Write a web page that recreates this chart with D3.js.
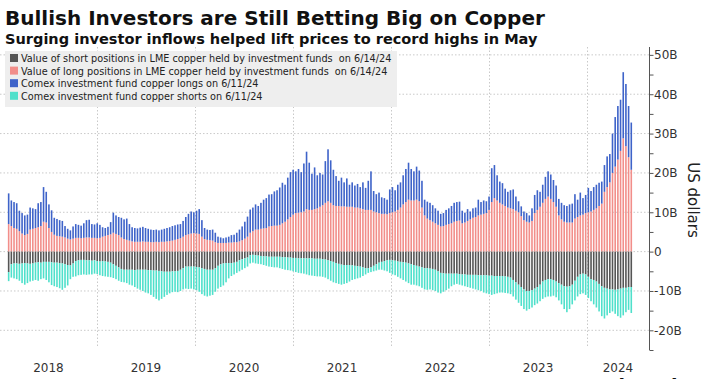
<!DOCTYPE html>
<html><head><meta charset="utf-8">
<script src="https://cdn.jsdelivr.net/npm/d3@7"></script>
<style>
html,body{margin:0;padding:0;background:#fff;}
svg{display:block;font-family:"DejaVu Sans",Verdana,sans-serif;}
</style></head><body>
<svg id="chart" width="708" height="379"></svg>
<script>
// LME long positions held by investment funds (US$ bn)
const lmeLong = [
7.0,6.5,6.0,5.8,5.2,4.6,4.2,4.5,5.6,5.8,
6.0,6.2,6.5,7.6,7.4,6.0,5.0,4.3,4.0,3.9,
3.8,3.6,3.3,3.1,3.3,3.5,3.5,3.4,3.5,3.6,
3.6,3.5,3.5,3.4,3.5,3.8,4.0,4.2,4.4,4.8,
4.5,4.2,3.6,3.2,3.0,2.8,2.6,2.5,2.5,2.5,
2.6,2.5,2.5,2.4,2.4,2.5,2.4,2.5,2.5,2.6,
2.7,2.8,3.0,3.2,3.4,3.8,4.2,4.4,4.6,4.7,
4.6,4.5,3.8,3.2,3.0,2.9,2.8,2.4,2.2,2.2,
2.2,2.2,2.3,2.3,2.4,2.4,2.6,2.9,3.3,3.8,
4.8,5.2,5.6,5.6,5.8,5.9,6.0,6.4,6.5,6.6,
6.6,6.8,7.2,7.6,8.2,8.8,9.4,9.8,9.9,10.0,
10.2,10.8,10.6,10.6,10.8,11.0,11.4,11.8,12.4,12.8,
12.4,11.8,11.6,11.6,11.5,11.5,11.4,11.4,11.4,11.2,
11.2,11.0,10.8,10.6,10.6,10.6,10.2,10.0,9.8,9.6,
9.6,9.5,9.8,10.0,10.2,10.6,11.2,12.0,12.6,13.2,
13.0,13.0,13.2,12.8,11.2,9.2,8.4,8.0,7.6,7.2,
6.8,6.4,6.5,6.8,7.0,7.2,7.6,7.8,7.9,7.2,
7.4,7.8,8.2,8.6,8.8,9.2,9.4,9.6,9.8,10.6,
12.6,13.6,13.0,12.4,12.0,11.6,11.2,11.0,10.8,10.4,
10.0,9.0,8.0,7.6,7.4,7.8,9.8,10.6,11.4,12.4,
13.4,14.0,13.4,12.6,11.4,9.2,8.2,7.6,7.4,7.4,
7.4,8.4,8.8,9.2,9.4,9.8,10.0,10.2,10.6,11.0,
11.6,12.2,15.2,16.4,17.6,20.0,21.6,23.4,25.6,28.8,
26.8,24.0,20.8];
// Comex investment fund longs (US$ bn)
const comexLong = [
7.8,6.5,6.6,6.5,5.2,5.2,5.0,4.9,5.6,5.2,
4.8,6.1,6.1,8.8,7.8,6.0,5.5,4.3,4.3,4.1,
4.0,2.9,2.5,2.3,3.1,3.5,3.3,3.2,3.7,4.4,
4.5,3.5,3.4,3.8,3.3,2.4,2.0,2.1,3.1,5.1,
4.7,4.6,5.0,5.0,5.4,4.2,3.6,3.5,3.4,3.6,
3.7,3.5,3.3,3.2,3.1,3.1,3.0,3.1,3.3,3.4,
3.5,3.7,3.7,3.7,3.6,4.0,4.6,5.2,5.6,5.3,
5.8,6.3,4.2,2.8,2.6,2.6,2.8,2.4,1.6,1.4,
1.2,1.4,1.5,1.9,1.9,2.4,3.0,3.5,4.3,5.1,
5.9,6.0,6.4,6.0,6.6,7.3,7.6,8.1,8.1,8.7,
9.0,9.5,10.3,9.4,10.6,11.4,11.4,10.6,11.1,10.2,
12.2,14.6,12.0,9.2,10.6,8.4,8.6,7.8,10.6,13.2,
10.8,9.0,7.6,6.4,7.3,6.1,7.2,5.6,6.2,5.6,
6.0,5.4,6.8,5.6,7.4,9.8,5.2,4.6,5.2,4.2,
4.0,3.7,6.0,6.4,5.4,6.4,6.4,7.4,8.4,9.4,
8.0,7.4,8.4,7.8,6.8,4.0,4.3,4.4,4.2,3.8,
3.6,3.2,3.3,3.8,4.0,4.4,4.8,4.8,4.8,3.2,
2.5,3.0,2.0,2.4,2.4,4.0,3.2,3.4,3.0,3.4,
8.6,8.4,6.4,5.4,5.4,4.4,4.0,4.6,5.0,3.6,
2.8,2.5,2.2,2.2,1.8,3.2,4.6,5.0,3.8,4.6,
5.6,6.4,6.2,5.6,5.4,4.2,4.2,4.2,4.2,4.6,
4.8,6.2,4.4,5.8,4.2,4.6,6.2,5.2,5.8,6.0,
5.9,5.6,6.8,7.8,7.2,10.0,12.6,13.6,13.0,16.8,
15.8,13.0,12.0];
// LME short positions held by investment funds (US$ bn, shown below zero)
const lmeShort = [
5.2,3.2,3.0,3.0,3.1,3.0,2.9,3.0,3.1,3.0,
2.8,2.7,2.8,2.6,2.6,2.6,2.7,2.8,2.8,2.9,
3.0,3.2,3.4,3.5,3.0,2.4,2.2,2.1,2.1,2.2,
2.2,2.3,2.2,2.4,2.5,2.4,2.5,2.6,2.8,3.2,
3.6,4.0,4.4,4.6,4.6,4.6,4.6,4.7,4.6,4.6,
4.6,4.6,4.7,4.7,4.8,4.8,4.9,5.0,5.1,5.1,
5.1,5.0,5.0,4.9,4.6,4.2,3.8,3.8,3.8,3.8,
3.9,4.0,4.2,4.4,4.6,4.6,4.6,4.2,3.6,3.2,
3.0,2.9,2.9,2.9,2.8,2.6,2.2,1.9,1.7,1.5,
0.9,0.8,0.9,1.0,1.1,1.2,1.2,1.3,1.3,1.3,
1.3,1.3,1.4,1.4,1.5,1.5,1.6,1.6,1.7,1.7,
1.7,1.7,1.7,1.7,1.8,1.8,1.8,1.9,2.0,2.2,
2.4,2.6,2.9,3.1,3.3,3.4,3.4,3.4,3.5,3.6,
3.7,3.8,4.0,4.2,4.2,4.0,3.6,3.2,2.8,2.6,
2.4,2.2,2.1,2.2,2.3,2.5,2.6,2.7,2.8,3.0,
3.2,3.4,3.6,3.8,4.0,4.2,4.2,4.3,4.4,4.6,
5.0,5.4,5.5,5.6,5.6,5.6,5.6,5.6,5.7,5.8,
5.8,5.9,5.9,5.9,5.9,6.0,6.0,6.0,6.0,6.1,
6.1,6.2,6.2,6.2,6.2,6.3,6.4,6.6,7.2,7.8,
8.4,9.0,9.6,10.0,10.0,9.8,9.4,9.0,8.4,7.6,
7.2,7.0,7.0,7.2,7.6,8.0,8.4,8.8,8.9,8.8,
8.4,7.4,6.4,5.8,5.6,5.8,6.4,7.0,7.2,7.6,
8.2,8.8,9.2,9.4,9.6,9.6,9.7,9.6,9.4,9.2,
9.2,9.0,9.0];
// Comex investment fund shorts (US$ bn, shown below zero)
const comexShort = [
2.3,3.4,3.8,4.0,4.3,5.0,5.5,5.0,4.5,4.4,
4.4,4.7,4.2,4.2,4.6,5.2,5.8,6.0,6.2,6.4,
6.7,6.0,5.2,3.5,3.4,3.9,3.8,3.8,3.7,3.7,
3.6,3.5,3.4,3.3,3.5,3.8,3.8,3.8,3.7,3.5,
3.4,3.4,3.3,3.2,3.4,3.8,4.0,4.3,4.8,5.1,
5.4,5.8,5.9,6.3,6.7,7.2,7.5,7.0,6.4,5.9,
5.5,5.3,5.2,5.4,5.4,5.4,5.6,5.7,5.6,5.8,
5.9,6.2,6.6,6.8,6.8,6.6,6.4,6.0,5.8,5.8,
5.6,4.9,3.9,3.3,3.0,2.8,2.8,2.7,2.5,2.3,
2.1,2.0,2.1,2.1,2.1,2.2,2.4,2.5,2.6,2.7,
2.7,2.9,3.0,3.2,3.2,3.3,3.4,3.6,3.7,3.8,
3.9,4.1,4.3,4.4,4.4,4.5,4.5,4.5,4.6,4.8,
5.0,5.2,5.1,5.1,5.1,4.8,4.6,4.2,3.7,3.4,
3.1,2.8,2.2,1.6,1.2,1.2,1.4,1.6,1.8,2.0,
2.4,2.8,3.3,3.6,3.7,3.9,4.2,4.5,4.8,5.0,
5.2,5.0,5.0,5.0,5.2,5.4,5.5,5.3,5.4,5.4,
5.4,5.2,4.7,4.2,3.8,3.2,2.8,2.6,2.7,2.8,
3.0,3.1,3.3,3.5,3.7,3.8,4.0,4.4,4.6,4.7,
4.9,4.6,4.4,4.2,4.2,4.2,4.2,4.2,4.2,4.4,
4.6,4.8,5.0,5.0,4.6,4.4,4.2,4.2,4.2,4.4,
4.4,4.4,4.4,4.0,4.0,4.4,5.0,5.8,6.5,5.8,
5.0,5.0,5.0,5.0,5.0,5.2,5.4,5.6,6.2,6.6,
7.0,7.6,7.8,6.8,6.0,5.6,6.1,6.8,7.4,7.0,
6.2,5.8,6.6];

const yearLabels = ["2018","2019","2020","2021","2022","2023","2024"];
const yTickValues = [-20,-10,0,10,20,30,40,50];
const yMinorTicks = [-25,-20,-15,-10,-5,0,5,10,15,20,25,30,35,40,45,50];
const yTickLabels = ["-20B","-10B","0","10B","20B","30B","40B","50B"];
const legendLabels = [
  "Value of short positions in LME copper held by investment funds  on 6/14/24",
  "Value of long positions in LME copper held by investment funds  on 6/14/24",
  "Comex investment fund copper longs on 6/11/24",
  "Comex investment fund copper shorts on 6/11/24"
];
const titleText = "Bullish Investors are Still Betting Big on Copper";
const subtitleText = "Surging investor inflows helped lift prices to record highs in May";
const lastDate = new Date(2024, 5, 14);
const stepDays = 10;

const colors = {lmeShort:"#555555", lmeLong:"#f28e8a", comexLong:"#3e63c9", comexShort:"#4fe0cb"};

const n = lmeLong.length;
const rows = lmeLong.map((v, i) => ({
  date: d3.timeDay.offset(lastDate, -(n - 1 - i) * stepDays),
  lmeLong: v, comexLong: comexLong[i], lmeShort: -lmeShort[i], comexShort: -comexShort[i]
}));

const svg = d3.select("#chart");
const axisX = 649;
const x = d3.scaleTime().domain([new Date(2018,0,1), new Date(2024,7,19)]).range([-1, axisX]);
const y = d3.scaleLinear().domain([-25, 52]).range([350, 47]);

// gridlines
const grid = svg.append("g");
grid.selectAll("line.h").data(yTickValues).join("line")
  .attr("x1", 0).attr("x2", axisX).attr("y1", d => y(d)).attr("y2", d => y(d))
  .attr("stroke", "#c9c9c9").attr("stroke-width", 1).attr("stroke-dasharray", "1.5,2");
const yearStarts = d3.range(2019, 2025).map(yy => new Date(yy, 0, 1));
grid.selectAll("line.v").data(yearStarts).join("line")
  .attr("x1", d => Math.round(x(d)) + 0.5).attr("x2", d => Math.round(x(d)) + 0.5)
  .attr("y1", 47).attr("y2", 348)
  .attr("stroke", "#c9c9c9").attr("stroke-width", 1).attr("stroke-dasharray", "1.5,2");

// legend background
const lg = svg.append("g");
lg.append("rect").attr("x", 5).attr("y", 51).attr("width", 392).attr("height", 56).attr("fill", "#eeeeee");
const legendKeys = ["lmeShort","lmeLong","comexLong","comexShort"];
legendLabels.forEach((t, i) => {
  const cy = 58 + i * 12.6;
  lg.append("rect").attr("x", 10).attr("y", cy - 4).attr("width", 8).attr("height", 8).attr("fill", colors[legendKeys[i]]);
  lg.append("text").attr("x", 21).attr("y", cy + 4).attr("font-size", 11).attr("fill", "#222").text(t)
    .attr("xml:space", "preserve").style("white-space", "pre");
});
// fit first legend line to ~371px
{
  const tx = lg.selectAll("text").nodes();
  const w = tx[0].getComputedTextLength();
  const fs = 11 * 371 / w;
  tx.forEach(t => t.setAttribute("font-size", fs));
}

// bars
const stack = d3.stack().keys(["lmeLong","comexLong","lmeShort","comexShort"]).offset(d3.stackOffsetDiverging);
const series = stack(rows);
const bw = 1.6;
svg.append("g").selectAll("g").data(series).join("g")
  .attr("fill", s => colors[s.key])
  .selectAll("rect").data(s => s).join("rect")
  .attr("x", d => x(d.data.date) - bw / 2)
  .attr("width", bw)
  .attr("y", d => y(Math.max(d[0], d[1])))
  .attr("height", d => Math.abs(y(d[0]) - y(d[1])));

// right axis
const axis = d3.axisRight(y).tickValues(yMinorTicks).tickSize(4).tickSizeOuter(0).tickFormat("");
const ag = svg.append("g").attr("transform", `translate(${axisX + 0.5},0)`).call(axis);
ag.select(".domain").attr("stroke", "#555").attr("d", `M0,${y(52)}V350`);
ag.selectAll(".tick line").attr("stroke", "#555");
svg.append("g").selectAll("text").data(yTickValues).join("text")
  .attr("x", 654).attr("y", d => y(d) + 4.5)
  .attr("font-size", 12).attr("fill", "#333")
  .text((d, i) => yTickLabels[i]);

svg.append("text").attr("transform", "translate(688,200) rotate(90)")
  .attr("text-anchor", "middle").attr("font-size", 15).attr("fill", "#222").text("US dollars");

// year labels
svg.append("g").selectAll("text").data(yearLabels).join("text")
  .attr("x", (d) => {
    const a = Math.max(0, x(new Date(+d, 0, 1)));
    const b = Math.min(axisX, x(new Date(+d + 1, 0, 1)));
    return (a + b) / 2;
  })
  .attr("y", 372).attr("text-anchor", "middle").attr("font-size", 12).attr("fill", "#333")
  .text(d => d);

// title & subtitle, fitted to their measured widths
const title = svg.append("text").attr("x", 5).attr("y", 25).attr("font-weight", "bold")
  .attr("font-size", 20).attr("fill", "#111").text(titleText);
title.attr("font-size", 20 * 540 / title.node().getComputedTextLength());
const sub = svg.append("text").attr("x", 5).attr("y", 44).attr("font-weight", "bold")
  .attr("font-size", 15).attr("fill", "#111").text(subtitleText);
sub.attr("font-size", 15 * 533 / sub.node().getComputedTextLength());

svg.append("text").attr("x", 604).attr("y", 393).attr("font-weight", "bold")
  .attr("font-size", 19).attr("fill", "#111").text("Bloomberg");
</script>
</body></html>
